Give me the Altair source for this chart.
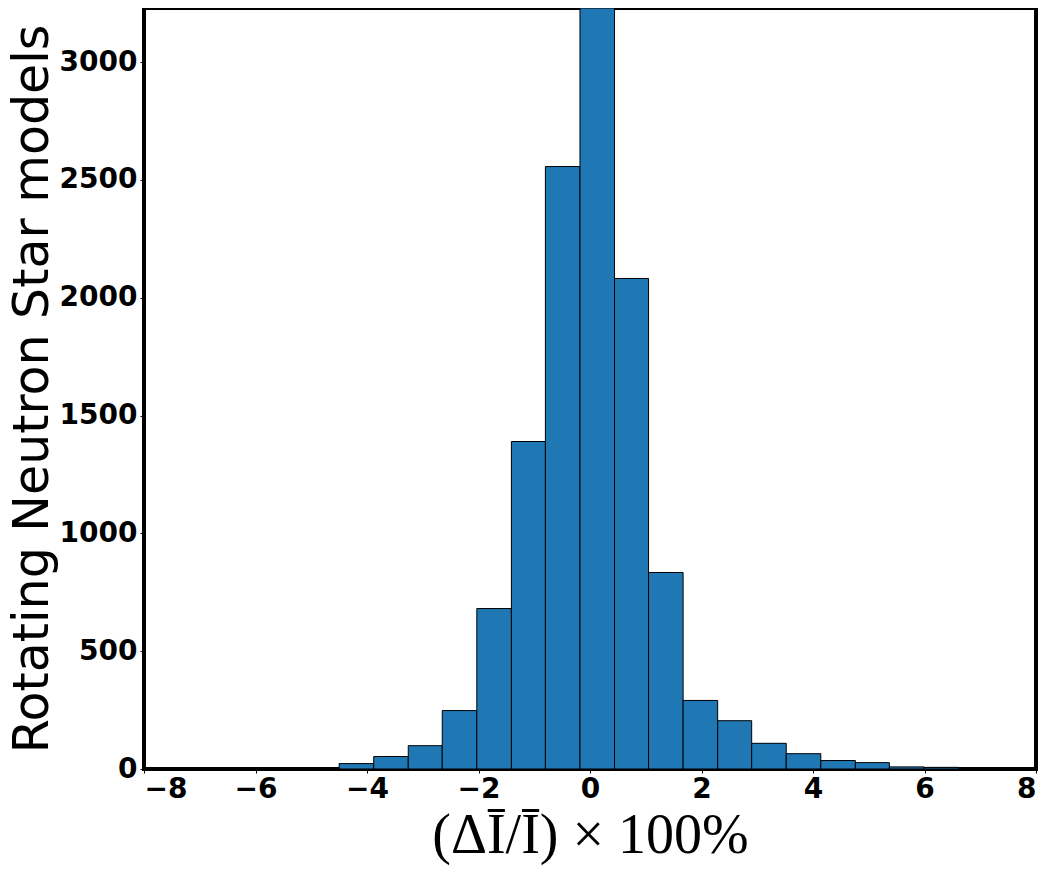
import altair as alt
import pandas as pd

# Bin edges and counts
bin_edges = [-4.50, -3.88, -3.26, -2.65, -2.03, -1.41, -0.80, -0.18, 0.44,
             1.05, 1.67, 2.29, 2.90, 3.52, 4.14, 4.76, 5.37, 5.99, 6.61]
counts = [23, 53, 99, 248, 681, 1390, 2557, 3230, 2082, 834,
          291, 205, 109, 65, 36, 27, 9, 7]

x_ticks = [-8, -6, -4, -2, 0, 2, 4, 6, 8]
y_ticks = [0, 500, 1000, 1500, 2000, 2500, 3000]

df = pd.DataFrame({
    "lo": bin_edges[:-1],
    "hi": bin_edges[1:],
    "count": counts,
})

chart = alt.Chart(df).mark_rect(
    color="#1f77b4", stroke="black", strokeWidth=1
).encode(
    x=alt.X("lo:Q",
            scale=alt.Scale(domain=[-8, 8], nice=False, zero=False),
            axis=alt.Axis(values=x_ticks, format="d",
                          title="(ΔI\u0304/I\u0304) × 100%",
                          titleFont="Liberation Serif", titleFontSize=56,
                          titleFontWeight="normal", titlePadding=5,
                          labelFontSize=28, labelFontWeight="bold",
                          labelFont="DejaVu Sans", labelPadding=2,
                          tickSize=4, tickColor="black", domain=False,
                          grid=False, labelColor="black", titleColor="black")),
    x2="hi:Q",
    y=alt.Y("count:Q",
            scale=alt.Scale(domain=[0, 3230], nice=False),
            axis=alt.Axis(values=y_ticks, format="d",
                          title="Rotating Neutron Star models",
                          titleFont="DejaVu Sans", titleFontSize=49,
                          titleFontWeight="normal", titlePadding=2,
                          labelFontSize=28, labelFontWeight="bold",
                          labelFont="DejaVu Sans", labelPadding=3,
                          tickSize=4, tickColor="black", domain=False,
                          grid=False, labelColor="black", titleColor="black")),
    y2=alt.datum(0),
).properties(
    width=892, height=761,
    autosize=alt.AutoSizeParams(type="none"),
    padding={"left": 136, "top": 0, "right": 5, "bottom": 100},
).configure(
    background="white",
    view=alt.ViewConfig(stroke="black", strokeWidth=4),
)

chart.save("out.html", embed_options={"renderer": "svg", "actions": False})
